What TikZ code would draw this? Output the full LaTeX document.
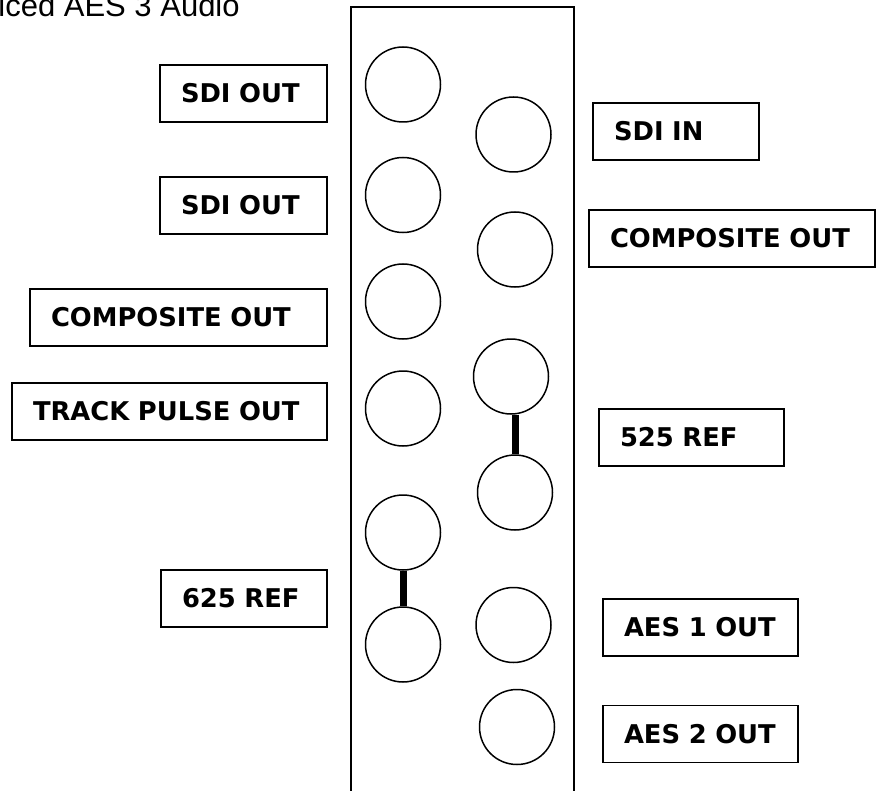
\documentclass[tikz,border=0pt]{standalone}
\usepackage{fontspec}
\newfontfamily\arialfont{Liberation Sans}
\newfontfamily\verdanafont{DejaVu Sans}
\tikzset{
  jack/.style={draw, circle, line width=0.75pt, minimum size=37.5pt, inner sep=0pt},
  lbl/.style={draw, line width=0.8pt, font=\verdanafont\bfseries\fontsize{12.9}{15}\selectfont,
    align=left, inner xsep=10.6pt, inner ysep=0pt, minimum height=28.5pt, text width=#1},
  bar/.style={line width=3.5pt}
}
\begin{document}
\begin{tikzpicture}[x=0.5pt,y=-0.5pt]
\useasboundingbox (0,0) rectangle (877,791);
\node[anchor=base west, inner sep=0pt, font=\arialfont\fontsize{15.5}{18}\selectfont] (title) at (-2,16.7) {iced AES 3 Audio};
\draw[line width=0.7pt] (351,800) -- (351,7) -- (574,7) -- (574,800);
\foreach \y [count=\i] in {84.5,195,301.5,408.5,532.5,644.5}
  \node[jack] (l\i) at (403,\y) {};
\foreach \x/\y [count=\i] in {513.5/134.5,515/249.5,511/376.5,515/492.5,513.5/625,517/727}
  \node[jack] (r\i) at (\x,\y) {};
\draw[bar] (l5.south) -- (l6.north);
\draw[bar] (r4.north |- r3.south) -- (r4.north);
\node[lbl=62.5pt] (sdiout1) at (243.5,93.5) {SDI OUT};
\node[lbl=62.5pt] (sdiout2) at (243.5,205.5) {SDI OUT};
\node[lbl=127.5pt] (compl) at (178.5,317.5) {COMPOSITE OUT};
\node[lbl=136.5pt] (track) at (169.5,411.5) {TRACK PULSE OUT};
\node[lbl=62pt] (ref625) at (244,598.5) {625 REF};
\node[lbl=62pt] (sdiin) at (676,131.5) {SDI IN};
\node[lbl=122pt] (compr) at (732,238.5) {COMPOSITE OUT};
\node[lbl=71.5pt] (ref525) at (691.5,437.5) {525 REF};
\node[lbl=76.5pt] (aes1) at (700.5,627.5) {AES 1 OUT};
\node[lbl=76.5pt] (aes2) at (700.5,734) {AES 2 OUT};
\end{tikzpicture}
\end{document}
